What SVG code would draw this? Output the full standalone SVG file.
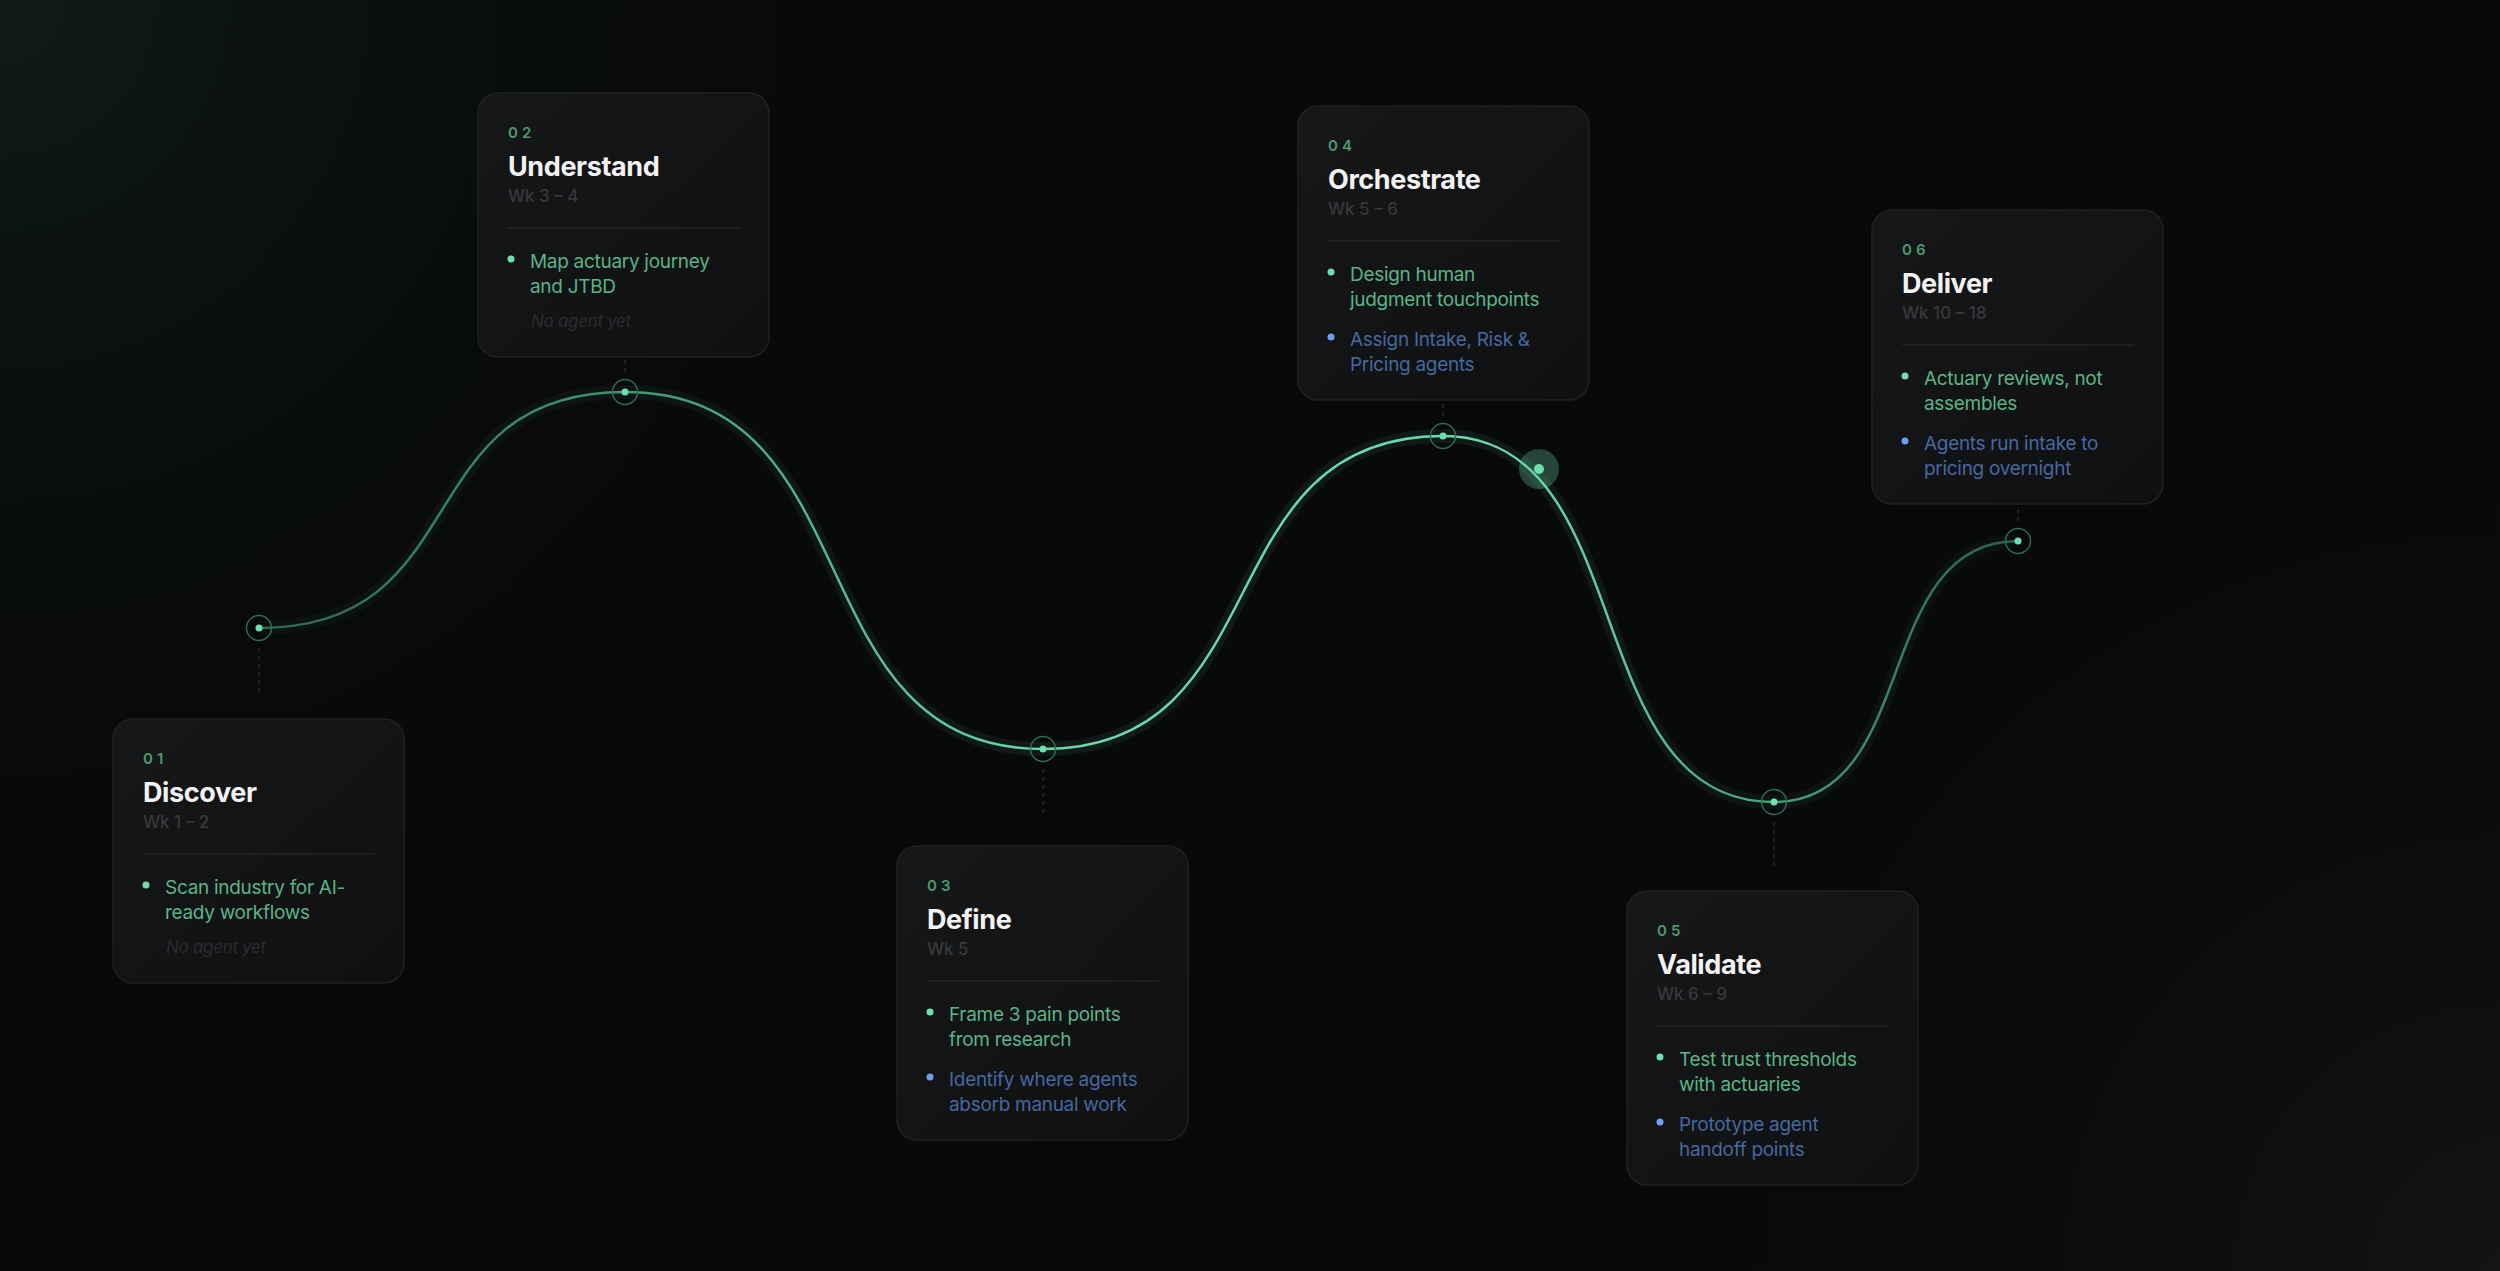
<svg xmlns="http://www.w3.org/2000/svg" width="2500" height="1271" viewBox="0 0 2500 1271">
<defs>
<radialGradient id="bgTL" cx="0" cy="0" r="900" gradientUnits="userSpaceOnUse">
<stop offset="0" stop-color="#10201a" stop-opacity="0.85"/>
<stop offset="1" stop-color="#08090b" stop-opacity="0"/>
</radialGradient>
<radialGradient id="bgBR" cx="2500" cy="1271" r="900" gradientUnits="userSpaceOnUse">
<stop offset="0" stop-color="#141517" stop-opacity="0.9"/>
<stop offset="1" stop-color="#08090b" stop-opacity="0"/>
</radialGradient>
<linearGradient id="cardFill" x1="0" y1="0" x2="1" y2="1">
<stop offset="0" stop-color="#161718"/>
<stop offset="1" stop-color="#0f1012"/>
</linearGradient>
<linearGradient id="curveGrad" gradientUnits="userSpaceOnUse" x1="259" y1="0" x2="2018" y2="0">
<stop offset="0" stop-color="#2d6a50"/>
<stop offset="0.2" stop-color="#3f9470"/>
<stop offset="0.45" stop-color="#6ad8a8"/>
<stop offset="0.72" stop-color="#6ad8a8"/>
<stop offset="0.86" stop-color="#4aa07a"/>
<stop offset="1" stop-color="#2a5e48"/>
</linearGradient>
<style>
.card{fill:url(#cardFill);stroke:#1f2124;stroke-width:1.5}
.num{font-family:Inter,"Liberation Sans",sans-serif;font-size:15px;font-weight:600;fill:#4a9a70;letter-spacing:4px}
.title{font-family:Inter,"Liberation Sans",sans-serif;font-size:27px;font-weight:700;fill:#f2f2f2;letter-spacing:-0.4px}
.wk{font-family:Inter,"Liberation Sans",sans-serif;font-size:17px;font-weight:500;fill:#37393c}
.div{stroke:#222427;stroke-width:1.5}
.g{font-family:Inter,"Liberation Sans",sans-serif;font-size:19px;fill:#5ab488;letter-spacing:-0.3px}
.b{font-family:Inter,"Liberation Sans",sans-serif;font-size:19px;fill:#46689f;letter-spacing:-0.3px}
.gd{fill:#6ee0b0}
.bd{fill:#6fa0f0}
.na{font-family:Inter,"Liberation Sans",sans-serif;font-size:17px;font-style:italic;fill:#2a2c2f;letter-spacing:-0.3px}
.dash{stroke:#25282b;stroke-width:1.5;stroke-dasharray:4 4}
.ring{fill:none;stroke:#2f6b52;stroke-width:1.5}
.dot{fill:#6ee0b0}
</style>
</defs>
<rect width="2500" height="1271" fill="#08090b"/>
<rect width="2500" height="1271" fill="url(#bgTL)"/>
<rect width="2500" height="1271" fill="url(#bgBR)"/>

<g id="connectors">
<line class="dash" x1="259" y1="648" x2="259" y2="696"/>
<line class="dash" x1="625" y1="372" x2="625" y2="324"/>
<line class="dash" x1="1043" y1="769" x2="1043" y2="817"/>
<line class="dash" x1="1443" y1="416" x2="1443" y2="368"/>
<line class="dash" x1="1774" y1="822" x2="1774" y2="870"/>
<line class="dash" x1="2018" y1="521" x2="2018" y2="473"/>
<path id="curve-glow" d="M259,628 C478.6,628 405.4,392 625,392 C875.8,392 792.2,749 1043,749 C1283,749 1203,436 1443,436 C1641.6,436 1575.4,802 1774,802 C1920.4,802 1871.6,541 2018,541" fill="none" stroke="url(#curveGrad)" stroke-width="14" stroke-opacity="0.08"/>
<path id="curve" d="M259,628 C478.6,628 405.4,392 625,392 C875.8,392 792.2,749 1043,749 C1283,749 1203,436 1443,436 C1641.6,436 1575.4,802 1774,802 C1920.4,802 1871.6,541 2018,541" fill="none" stroke="url(#curveGrad)" stroke-width="2.5"/>
<circle cx="1539" cy="469" r="20" fill="#6ee0b0" fill-opacity="0.28"/>
<circle cx="1539" cy="469" r="5" fill="#6ee0b0"/>
</g>

<g id="points">
<circle class="ring" cx="259" cy="628" r="12.5"/><circle class="dot" cx="259" cy="628" r="3.5"/>
<circle class="ring" cx="625" cy="392" r="12.5"/><circle class="dot" cx="625" cy="392" r="3.5"/>
<circle class="ring" cx="1043" cy="749" r="12.5"/><circle class="dot" cx="1043" cy="749" r="3.5"/>
<circle class="ring" cx="1443" cy="436" r="12.5"/><circle class="dot" cx="1443" cy="436" r="3.5"/>
<circle class="ring" cx="1774" cy="802" r="12.5"/><circle class="dot" cx="1774" cy="802" r="3.5"/>
<circle class="ring" cx="2018" cy="541" r="12.5"/><circle class="dot" cx="2018" cy="541" r="3.5"/>
</g>

<g id="card-1" transform="translate(113,719)">
<rect class="card" x="0" y="0" width="291" height="264" rx="20"/>
<text class="num" x="30" y="45">01</text>
<text class="title" x="30" y="83">Discover</text>
<text class="wk" x="30" y="109">Wk 1 – 2</text>
<line class="div" x1="30" y1="135" x2="262" y2="135"/>
<circle class="gd" cx="33" cy="166" r="3.5"/>
<text class="g" x="52" y="175">Scan industry for AI-</text>
<text class="g" x="52" y="200">ready workflows</text>
<text class="na" x="53" y="234">No agent yet</text>
</g>

<g id="card-2" transform="translate(478,93)">
<rect class="card" x="0" y="0" width="291" height="264" rx="20"/>
<text class="num" x="30" y="45">02</text>
<text class="title" x="30" y="83">Understand</text>
<text class="wk" x="30" y="109">Wk 3 – 4</text>
<line class="div" x1="30" y1="135" x2="262" y2="135"/>
<circle class="gd" cx="33" cy="166" r="3.5"/>
<text class="g" x="52" y="175">Map actuary journey</text>
<text class="g" x="52" y="200">and JTBD</text>
<text class="na" x="53" y="234">No agent yet</text>
</g>

<g id="card-3" transform="translate(897,846)">
<rect class="card" x="0" y="0" width="291" height="294" rx="20"/>
<text class="num" x="30" y="45">03</text>
<text class="title" x="30" y="83">Define</text>
<text class="wk" x="30" y="109">Wk 5</text>
<line class="div" x1="30" y1="135" x2="262" y2="135"/>
<circle class="gd" cx="33" cy="166" r="3.5"/>
<text class="g" x="52" y="175">Frame 3 pain points</text>
<text class="g" x="52" y="200">from research</text>
<circle class="bd" cx="33" cy="231" r="3.5"/>
<text class="b" x="52" y="240">Identify where agents</text>
<text class="b" x="52" y="265">absorb manual work</text>
</g>

<g id="card-4" transform="translate(1298,106)">
<rect class="card" x="0" y="0" width="291" height="294" rx="20"/>
<text class="num" x="30" y="45">04</text>
<text class="title" x="30" y="83">Orchestrate</text>
<text class="wk" x="30" y="109">Wk 5 – 6</text>
<line class="div" x1="30" y1="135" x2="262" y2="135"/>
<circle class="gd" cx="33" cy="166" r="3.5"/>
<text class="g" x="52" y="175">Design human</text>
<text class="g" x="52" y="200">judgment touchpoints</text>
<circle class="bd" cx="33" cy="231" r="3.5"/>
<text class="b" x="52" y="240">Assign Intake, Risk &amp;</text>
<text class="b" x="52" y="265">Pricing agents</text>
</g>

<g id="card-5" transform="translate(1627,891)">
<rect class="card" x="0" y="0" width="291" height="294" rx="20"/>
<text class="num" x="30" y="45">05</text>
<text class="title" x="30" y="83">Validate</text>
<text class="wk" x="30" y="109">Wk 6 – 9</text>
<line class="div" x1="30" y1="135" x2="262" y2="135"/>
<circle class="gd" cx="33" cy="166" r="3.5"/>
<text class="g" x="52" y="175">Test trust thresholds</text>
<text class="g" x="52" y="200">with actuaries</text>
<circle class="bd" cx="33" cy="231" r="3.5"/>
<text class="b" x="52" y="240">Prototype agent</text>
<text class="b" x="52" y="265">handoff points</text>
</g>

<g id="card-6" transform="translate(1872,210)">
<rect class="card" x="0" y="0" width="291" height="294" rx="20"/>
<text class="num" x="30" y="45">06</text>
<text class="title" x="30" y="83">Deliver</text>
<text class="wk" x="30" y="109">Wk 10 – 18</text>
<line class="div" x1="30" y1="135" x2="262" y2="135"/>
<circle class="gd" cx="33" cy="166" r="3.5"/>
<text class="g" x="52" y="175">Actuary reviews, not</text>
<text class="g" x="52" y="200">assembles</text>
<circle class="bd" cx="33" cy="231" r="3.5"/>
<text class="b" x="52" y="240">Agents run intake to</text>
<text class="b" x="52" y="265">pricing overnight</text>
</g>
</svg>
